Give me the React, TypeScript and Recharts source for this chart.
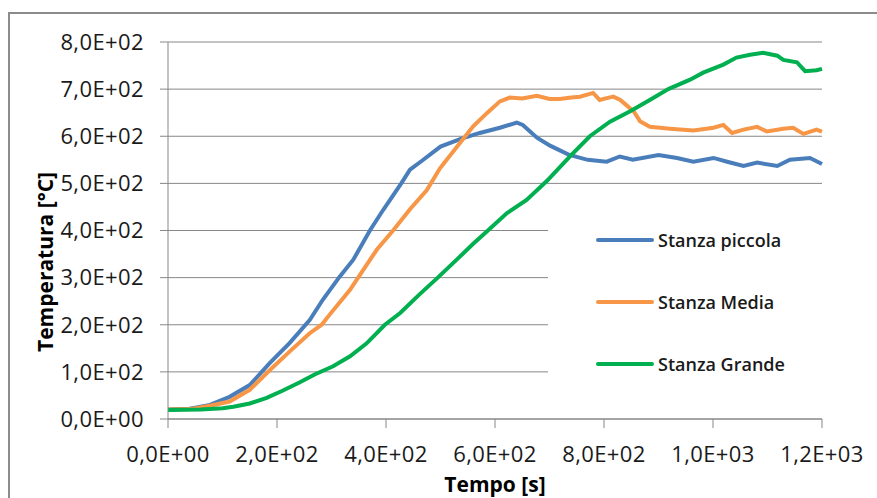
import React from 'react'
import { LineChart, Line, XAxis, YAxis, CartesianGrid, Legend } from 'recharts'

const fontFamily = "'Open Sans', 'Noto Sans', sans-serif"

const seriesNames = ['Stanza piccola', 'Stanza Media', 'Stanza Grande']
const seriesColors = ['#4a7ebb', '#f79646', '#00b050']

// Stanza piccola
const tSmall = [0, 40, 77, 113, 150, 187, 223, 260, 284, 315, 340, 371, 395, 428, 444, 466, 500, 536, 572, 609, 640, 651, 677, 701, 735, 770, 805, 829, 853, 900, 934, 964, 1001, 1026, 1056, 1081, 1118, 1141, 1178, 1200]
const tempSmall = [20, 22, 30, 47, 72, 119, 161, 210, 253, 302, 338, 401, 444, 500, 529, 548, 578, 594, 607, 618, 629, 624, 597, 580, 561, 550, 546, 557, 550, 560, 554, 546, 554, 546, 537, 544, 537, 550, 554, 541]

// Stanza Media
const tMedium = [0, 40, 77, 113, 150, 187, 223, 260, 282, 297, 334, 358, 383, 413, 444, 475, 499, 536, 560, 585, 609, 627, 650, 677, 700, 719, 740, 756, 780, 792, 805, 817, 830, 842, 855, 866, 884, 921, 964, 1001, 1019, 1035, 1056, 1081, 1099, 1129, 1147, 1166, 1190, 1200]
const tempMedium = [20, 21, 28, 37, 62, 104, 143, 182, 200, 222, 274, 316, 359, 400, 445, 486, 532, 586, 621, 649, 674, 682, 680, 686, 679, 679, 682, 684, 692, 677, 681, 684, 677, 665, 652, 632, 620, 616, 612, 618, 624, 607, 614, 620, 610, 616, 618, 605, 614, 610]

// Stanza Grande
const tLarge = [0, 60, 100, 120, 150, 181, 210, 242, 270, 303, 334, 364, 398, 426, 462, 495, 536, 560, 587, 622, 658, 695, 738, 774, 811, 848, 884, 918, 958, 982, 1019, 1043, 1068, 1092, 1118, 1129, 1154, 1169, 1190, 1200]
const tempLarge = [19, 20, 23, 26, 33, 45, 60, 78, 95, 112, 133, 160, 200, 225, 265, 300, 345, 372, 400, 437, 465, 505, 558, 600, 631, 653, 677, 700, 720, 735, 752, 767, 773, 777, 771, 762, 757, 738, 740, 743]

const xTicks = [0, 200, 400, 600, 800, 1000, 1200]
const yTicks = [0, 100, 200, 300, 400, 500, 600, 700, 800]

const toRows = (t: number[], v: number[]) => t.map((x, i) => ({ t: x, temp: v[i] }))

const seriesData = [toRows(tSmall, tempSmall), toRows(tMedium, tempMedium), toRows(tLarge, tempLarge)]

// Excel style: 8,0E+02
const sci = (v: number) => {
  if (v === 0) return '0,0E+00'
  const exp = Math.floor(Math.log10(Math.abs(v)))
  const mant = v / Math.pow(10, exp)
  return `${mant.toFixed(1).replace('.', ',')}E+${String(exp).padStart(2, '0')}`
}

const AxisTitle = ({ title, posX, posY, vertical }: any) => (
  <text
    x={posX}
    y={posY}
    textAnchor="middle"
    transform={vertical ? `rotate(-90 ${posX} ${posY})` : undefined}
    style={{ fontSize: 21, fontWeight: 700, fill: '#000', fontFamily }}
  >
    {title}
  </text>
)

const LegendBox = (props: any) => {
  const payload = (props.payload || []).slice()
  payload.sort((a: any, b: any) => seriesNames.indexOf(a.value) - seriesNames.indexOf(b.value))
  return (
    <div style={{ paddingTop: 14 }}>
      {payload.map((it: any) => (
        <div key={it.value} style={{ height: 62, display: 'flex', alignItems: 'center' }}>
          <svg width={58} height={6} style={{ marginLeft: 48, display: 'block' }}>
            <line x1={2} y1={3} x2={56} y2={3} stroke={it.color} strokeWidth={4} strokeLinecap="round" />
          </svg>
          <span style={{ marginLeft: 4, fontSize: 18, fontWeight: 600, color: '#1a1a1a', fontFamily }}>
            {it.value}
          </span>
        </div>
      ))}
    </div>
  )
}

export default function App() {
  const gray = '#878787'
  const tickStyle = { fontSize: 22, fill: '#1a1a1a', fontFamily, letterSpacing: 0.4 }
  return (
    <div style={{ position: 'absolute', left: 0, top: 0, width: 877, height: 498, overflow: 'hidden', background: '#fff' }}>
      <div style={{ position: 'absolute', left: 8, top: 12, width: 920, height: 600, border: '2px solid #8c8c8c' }} />
      <div style={{ position: 'absolute', left: 0, top: 0 }}>
        <LineChart width={877} height={498} margin={{ top: 42, right: 55, bottom: 29, left: 0 }}>
          <CartesianGrid vertical={false} stroke={gray} />
          <XAxis
            type="number"
            dataKey="t"
            domain={[0, 1200]}
            ticks={xTicks}
            interval={0}
            tickFormatter={sci}
            height={50}
            tickSize={9}
            tickMargin={18}
            axisLine={{ stroke: gray }}
            tickLine={{ stroke: gray }}
            tick={tickStyle}
            label={<AxisTitle title="Tempo [s]" posX={495} posY={492} />}
          />
          <YAxis
            type="number"
            domain={[0, 800]}
            ticks={yTicks}
            interval={0}
            tickFormatter={sci}
            width={168}
            tickSize={8}
            tickMargin={16}
            axisLine={{ stroke: gray }}
            tickLine={{ stroke: gray }}
            tick={tickStyle}
            label={<AxisTitle title="Temperatura [°C]" posX={53} posY={262} vertical />}
          />
          <Legend
            layout="vertical"
            align="center"
            verticalAlign="middle"
            content={<LegendBox />}
            wrapperStyle={{ left: 548, top: 195, width: 274, height: 218, background: '#fff' }}
          />
          {seriesNames.map((name, i) => (
            <Line
              key={name}
              data={seriesData[i]}
              dataKey="temp"
              name={name}
              type="linear"
              stroke={seriesColors[i]}
              strokeWidth={4}
              dot={false}
              activeDot={false}
              isAnimationActive={false}
            />
          ))}
        </LineChart>
      </div>
    </div>
  )
}
